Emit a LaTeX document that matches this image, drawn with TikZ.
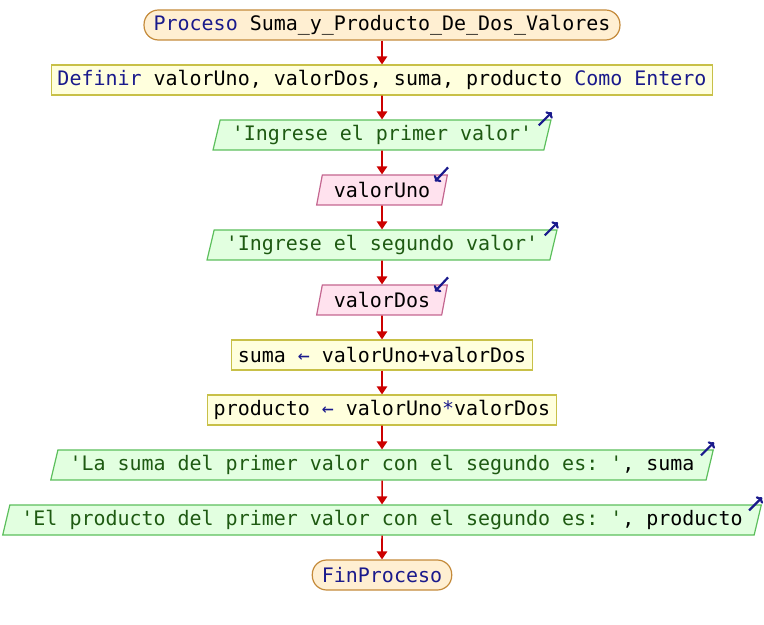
\documentclass[tikz,border=0pt]{standalone}
\usepackage{fontspec}
\setmonofont{DejaVu Sans Mono}
\usetikzlibrary{shapes.geometric,arrows.meta}

\definecolor{azulclave}{HTML}{1A1A8C}
\definecolor{verdecad}{HTML}{1E5A12}
\definecolor{rojoflecha}{HTML}{CC0000}
\definecolor{fondoterm}{HTML}{FFEFD2}
\definecolor{bordeterm}{HTML}{C48A3A}
\definecolor{fondoproc}{HTML}{FFFFDD}
\definecolor{bordeproc}{HTML}{C8C048}
\definecolor{fondosal}{HTML}{E2FFE0}
\definecolor{bordesal}{HTML}{5CBF5C}
\definecolor{fondoent}{HTML}{FFE2EE}
\definecolor{bordeent}{HTML}{C46690}

\newcommand{\clave}[1]{\textcolor{azulclave}{#1}}
\newcommand{\cadena}[1]{\textcolor{verdecad}{#1}}

\tikzset{
  caja/.style={font=\fontsize{14.2}{17}\selectfont\ttfamily, minimum height=7.5mm, inner ysep=0pt, line width=0.3mm},
  terminal/.style={caja, rectangle, rounded corners=3.6mm, fill=fondoterm, draw=bordeterm, inner xsep=2.4mm},
  proceso/.style={caja, rectangle, fill=fondoproc, draw=bordeproc, inner xsep=1.5mm},
  salida/.style={caja, trapezium, trapezium stretches=true, trapezium left angle=70, trapezium right angle=110, fill=fondosal, draw=bordesal, inner xsep=2.9mm},
  entrada/.style={caja, trapezium, trapezium stretches=true, trapezium left angle=70, trapezium right angle=110, fill=fondoent, draw=bordeent, inner xsep=2.9mm},
  flecha/.style={draw=rojoflecha, line width=0.4mm, -{Triangle[length=2mm,width=2.6mm]}},
  icono/.style={draw=azulclave, line width=0.55mm, -{To[length=1.2mm,width=2.4mm]}}
}

\begin{document}
\begin{tikzpicture}[x=2.5mm,y=2.5mm]
  \useasboundingbox (0,0) rectangle (76.4,-62.5);
  % inicio
  \node[terminal] (n1) at (38.2,-2.5) {\clave{Proceso} Suma\_y\_Producto\_De\_Dos\_Valores};
  \node[proceso] (n2) at (38.2,-8) {\clave{Definir} valorUno, valorDos, suma, producto \clave{Como Entero}};
  % lectura
  \node[salida] (n3) at (38.2,-13.5) {\cadena{'Ingrese el primer valor'}};
  \node[entrada] (n4) at (38.2,-19) {valorUno};
  \node[salida] (n5) at (38.2,-24.5) {\cadena{'Ingrese el segundo valor'}};
  \node[entrada] (n6) at (38.2,-30) {valorDos};
  % calculo
  \node[proceso] (n7) at (38.2,-35.5) {suma \clave{←} valorUno+valorDos};
  \node[proceso] (n8) at (38.2,-41) {producto \clave{←} valorUno\clave{*}valorDos};
  % escritura
  \node[salida] (n9) at (38.2,-46.5) {\cadena{'La suma del primer valor con el segundo es: '}, suma};
  \node[salida] (n10) at (38.2,-52) {\cadena{'El producto del primer valor con el segundo es: '}, producto};
  \node[terminal] (n11) at (38.2,-57.5) {\clave{FinProceso}};
  % flechas
  \foreach \a/\b in {n1/n2,n2/n3,n3/n4,n4/n5,n5/n6,n6/n7,n7/n8,n8/n9,n9/n10,n10/n11}
    \draw[flecha] (\a) -- (\b);
  % iconos de entrada y salida
  \foreach \s in {n3,n5,n9,n10}
    \draw[icono] ([shift={(-1.3,-0.6)}]\s.top right corner) -- ++(1.3,1.3);
  \foreach \e in {n4,n6}
    \draw[icono] ([shift={(0,0.7)}]\e.top right corner) -- ++(-1.3,-1.4);
\end{tikzpicture}
\end{document}
